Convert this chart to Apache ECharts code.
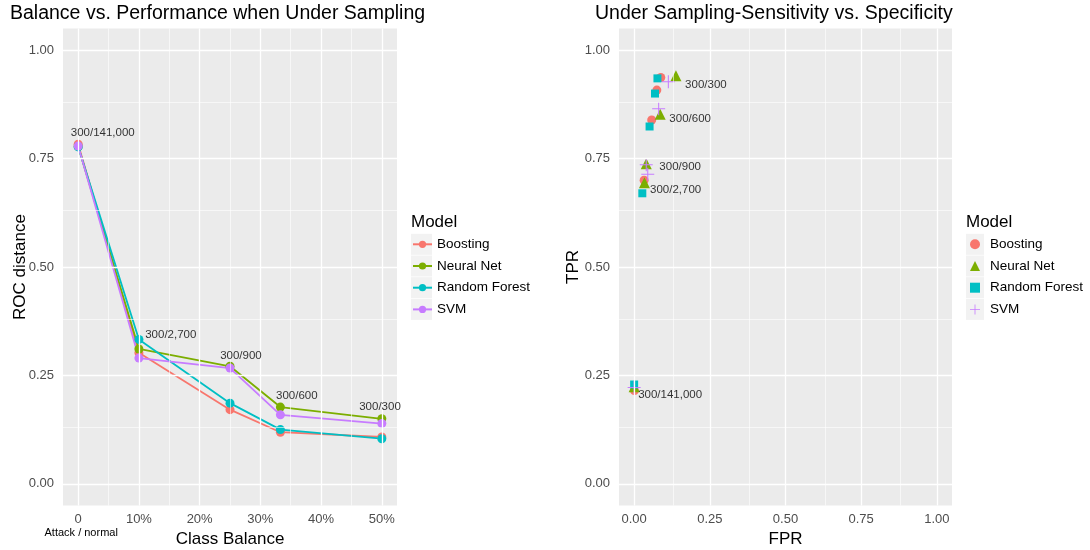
<!DOCTYPE html>
<html>
<head>
<meta charset="utf-8">
<script src="https://cdn.jsdelivr.net/npm/echarts@6/dist/echarts.min.js"></script>
<style>
  html, body { margin: 0; padding: 0; background: #ffffff; }
  #chart { width: 1090px; height: 550px; }
</style>
</head>
<body>
<div id="chart"></div>
<script>
// ---- data ----
const models = ['Boosting', 'Neural Net', 'Random Forest', 'SVM'];
const balance = [0, 0.10, 0.25, 0.333, 0.50];            // attack / normal share
const ratios = ['300/141,000', '300/2,700', '300/900', '300/600', '300/300'];

// ROC distance per model, one value per class balance
const rocBoosting     = [0.783, 0.302, 0.171, 0.119, 0.108];
const rocNeuralNet    = [0.778, 0.311, 0.271, 0.177, 0.150];
const rocRandomForest = [0.777, 0.333, 0.186, 0.125, 0.104];
const rocSVM          = [0.779, 0.290, 0.267, 0.159, 0.139];

// false / true positive rates per model, same balance order
const fprBoosting     = [0.001, 0.033, 0.058, 0.075, 0.088];
const tprBoosting     = [0.215, 0.700, 0.839, 0.908, 0.937];
const fprNeuralNet    = [0.000, 0.034, 0.040, 0.086, 0.138];
const tprNeuralNet    = [0.224, 0.694, 0.738, 0.852, 0.941];
const fprRandomForest = [0.000, 0.027, 0.051, 0.069, 0.077];
const tprRandomForest = [0.229, 0.670, 0.824, 0.900, 0.935];
const fprSVM          = [0.000, 0.045, 0.040, 0.081, 0.113];
const tprSVM          = [0.222, 0.714, 0.736, 0.865, 0.927];

// where the ratio notes sit, in each panel's data units
const leftNoteX  = [0.0405, 0.1525, 0.268, 0.360, 0.497];
const leftNoteY  = [0.810, 0.344, 0.296, 0.202, 0.1785];
const rightNoteX = [0.119, 0.137, 0.152, 0.185, 0.237];
const rightNoteY = [0.2055, 0.679, 0.731, 0.842, 0.921];

// axis ticks
const rocTicks = [0, 0.25, 0.5, 0.75, 1];
const rocMinor = [0.125, 0.375, 0.625, 0.875];
const balanceTicks = [0, 0.1, 0.2, 0.3, 0.4, 0.5];
const balanceMinor = [0.05, 0.15, 0.25, 0.35, 0.45];
const rateTicks = [0, 0.25, 0.5, 0.75, 1];
const rateMinor = [0.125, 0.375, 0.625, 0.875];

// ---- styling ----
const palette = ['#F8766D', '#7CAE00', '#00BFC4', '#C77CFF'];
const plusPath = 'path://M-1,-0.08L1,-0.08L1,0.08L-1,0.08Z M-0.08,-1L0.08,-1L0.08,1L-0.08,1Z';
const shapes = ['circle', 'triangle', 'rect', plusPath];
const shapeSizes = [9, 11, 8, 13];
const FONT = '"Liberation Sans", Arial, sans-serif';
const tickColor = '#4d4d4d';

const rocSeries = [rocBoosting, rocNeuralNet, rocRandomForest, rocSVM];
const fprSeries = [fprBoosting, fprNeuralNet, fprRandomForest, fprSVM];
const tprSeries = [tprBoosting, tprNeuralNet, tprRandomForest, tprSVM];

function fmt2(v) { return v.toFixed(2); }

function makeAxis(gridIndex, min, max, ticks, labelFmt, name, nameGap, margin, extra) {
  return Object.assign({
    type: 'value', gridIndex, min, max,
    name, nameLocation: 'middle', nameGap, nameMoveOverlap: false,
    nameTextStyle: { fontFamily: FONT, fontSize: 17, color: '#000' },
    axisLine: { show: false },
    axisTick: { show: true, length: 4, customValues: ticks, lineStyle: { color: '#333', width: 1 } },
    axisLabel: { customValues: ticks, formatter: labelFmt, margin, fontFamily: FONT, fontSize: 13, color: tickColor },
    splitLine: { show: false }
  }, extra || {});
}

// white panel grid lines drawn behind the marks
function gridLines(xi, yi, xMajor, xMinor, yMajor, yMinor) {
  const data = [];
  yMinor.forEach(v => data.push({ yAxis: v, lineStyle: { width: 0.6 } }));
  xMinor.forEach(v => data.push({ xAxis: v, lineStyle: { width: 0.6 } }));
  yMajor.forEach(v => data.push({ yAxis: v, lineStyle: { width: 1.3 } }));
  xMajor.forEach(v => data.push({ xAxis: v, lineStyle: { width: 1.3 } }));
  return {
    type: 'scatter', name: 'grid-' + xi, xAxisIndex: xi, yAxisIndex: yi, data: [],
    z: 1, silent: true,
    markLine: {
      silent: true, symbol: ['none', 'none'], label: { show: false },
      lineStyle: { color: '#ffffff', type: 'solid' },
      emphasis: { disabled: true },
      animation: false,
      data
    }
  };
}

function noteSeries(xi, yi, xs, ys) {
  return {
    type: 'scatter', name: 'notes-' + xi, xAxisIndex: xi, yAxisIndex: yi, z: 5, silent: true,
    symbolSize: 1, itemStyle: { color: 'rgba(0,0,0,0)' },
    label: { show: true, position: 'inside', formatter: '{b}', fontFamily: FONT, fontSize: 11.5, color: '#000' },
    emphasis: { disabled: true },
    labelLayout: { hideOverlap: false },
    data: ratios.map((r, i) => ({ name: r, value: [xs[i], ys[i]] }))
  };
}

const series = [];
series.push(gridLines(0, 0, balanceTicks, balanceMinor, rocTicks, rocMinor));
series.push(gridLines(1, 1, rateTicks, rateMinor, rateTicks, rateMinor));

models.forEach((m, i) => {
  series.push({
    type: 'line', name: m, xAxisIndex: 0, yAxisIndex: 0, z: 3,
    symbol: 'circle', symbolSize: 9, showSymbol: true,
    lineStyle: { width: 1.8, color: palette[i] },
    itemStyle: { color: palette[i] },
    emphasis: { disabled: true },
    data: balance.map((b, k) => [b, rocSeries[i][k]])
  });
});
models.forEach((m, i) => {
  series.push({
    type: 'scatter', name: m, xAxisIndex: 1, yAxisIndex: 1, z: 3,
    symbol: shapes[i], symbolSize: shapeSizes[i],
    itemStyle: { color: palette[i], opacity: 1 },
    emphasis: { disabled: true },
    data: fprSeries[i].map((f, k) => [f, tprSeries[i][k]])
  });
});
series.push(noteSeries(0, 0, leftNoteX, leftNoteY));
series.push(noteSeries(1, 1, rightNoteX, rightNoteY));

// grey key backgrounds behind legend entries
const keyRows = [244.3, 266, 287.7, 309.4];
const keyBoxes = [];
keyRows.forEach(y => {
  keyBoxes.push({ type: 'rect', left: 411, top: y - 10.5, shape: { width: 21, height: 21 }, style: { fill: '#f2f2f2' }, z: 0 });
  keyBoxes.push({ type: 'rect', left: 966, top: y - 10.5, shape: { width: 18, height: 21 }, style: { fill: '#f2f2f2' }, z: 0 });
});

const option = {
  animation: false,
  backgroundColor: '#ffffff',
  title: [
    { text: 'Balance vs. Performance when Under Sampling', left: 10, top: 4, padding: 0,
      textStyle: { fontFamily: FONT, fontSize: 19.5, fontWeight: 'normal', color: '#000' } },
    { text: 'Under Sampling-Sensitivity vs. Specificity', left: 595, top: 4, padding: 0,
      textStyle: { fontFamily: FONT, fontSize: 19.5, fontWeight: 'normal', color: '#000' } }
  ],
  grid: [
    { left: 63, top: 28.5, width: 334, height: 477, show: true, backgroundColor: '#ebebeb', borderWidth: 0,
      outerBoundsMode: 'none', containLabel: false },
    { left: 619, top: 28.5, width: 333, height: 477, show: true, backgroundColor: '#ebebeb', borderWidth: 0,
      outerBoundsMode: 'none', containLabel: false }
  ],
  xAxis: [
    makeAxis(0, -0.025, 0.525, balanceTicks, null, 'Class Balance', 25, 7, {
      axisLabel: {
        customValues: balanceTicks, margin: 7, fontFamily: FONT, fontSize: 13, color: tickColor,
        formatter: v => Math.abs(v) < 1e-9 ? '{z|0}\n{note|Attack / normal}' : Math.round(v * 100) + '%',
        rich: {
          z: { fontFamily: FONT, fontSize: 13, color: tickColor, lineHeight: 14 },
          note: { fontFamily: FONT, fontSize: 11, color: '#000', lineHeight: 12, padding: [0, 0, 0, 6] }
        }
      }
    }),
    makeAxis(1, -0.05, 1.05, rateTicks, fmt2, 'FPR', 25, 7)
  ],
  yAxis: [
    makeAxis(0, -0.05, 1.05, rocTicks, fmt2, 'ROC distance', 34, 9),
    makeAxis(1, -0.05, 1.05, rateTicks, fmt2, 'TPR', 37, 9)
  ],
  legend: [
    {
      data: models, orient: 'vertical', left: 412, top: 237.3, padding: 0,
      itemWidth: 19, itemHeight: 9, itemGap: 7.7, selectedMode: false,
      textStyle: { fontFamily: FONT, fontSize: 13.5, color: '#000' }
    },
    {
      data: models.map((m, i) => ({ name: m, icon: shapes[i] })),
      orient: 'vertical', left: 970, top: 237.3, padding: 0,
      itemWidth: 10, itemHeight: 10, itemGap: 7.7, selectedMode: false,
      textStyle: { fontFamily: FONT, fontSize: 13.5, color: '#000', padding: [0, 0, 0, 5] }
    }
  ],
  graphic: keyBoxes.concat([
    { type: 'text', left: 411, top: 214, style: { text: 'Model', font: '17px ' + FONT, fill: '#000' } },
    { type: 'text', left: 966, top: 214, style: { text: 'Model', font: '17px ' + FONT, fill: '#000' } }
  ]),
  series
};

const chart = echarts.init(document.getElementById('chart'), null, { renderer: 'canvas' });
chart.setOption(option);
</script>
</body>
</html>
